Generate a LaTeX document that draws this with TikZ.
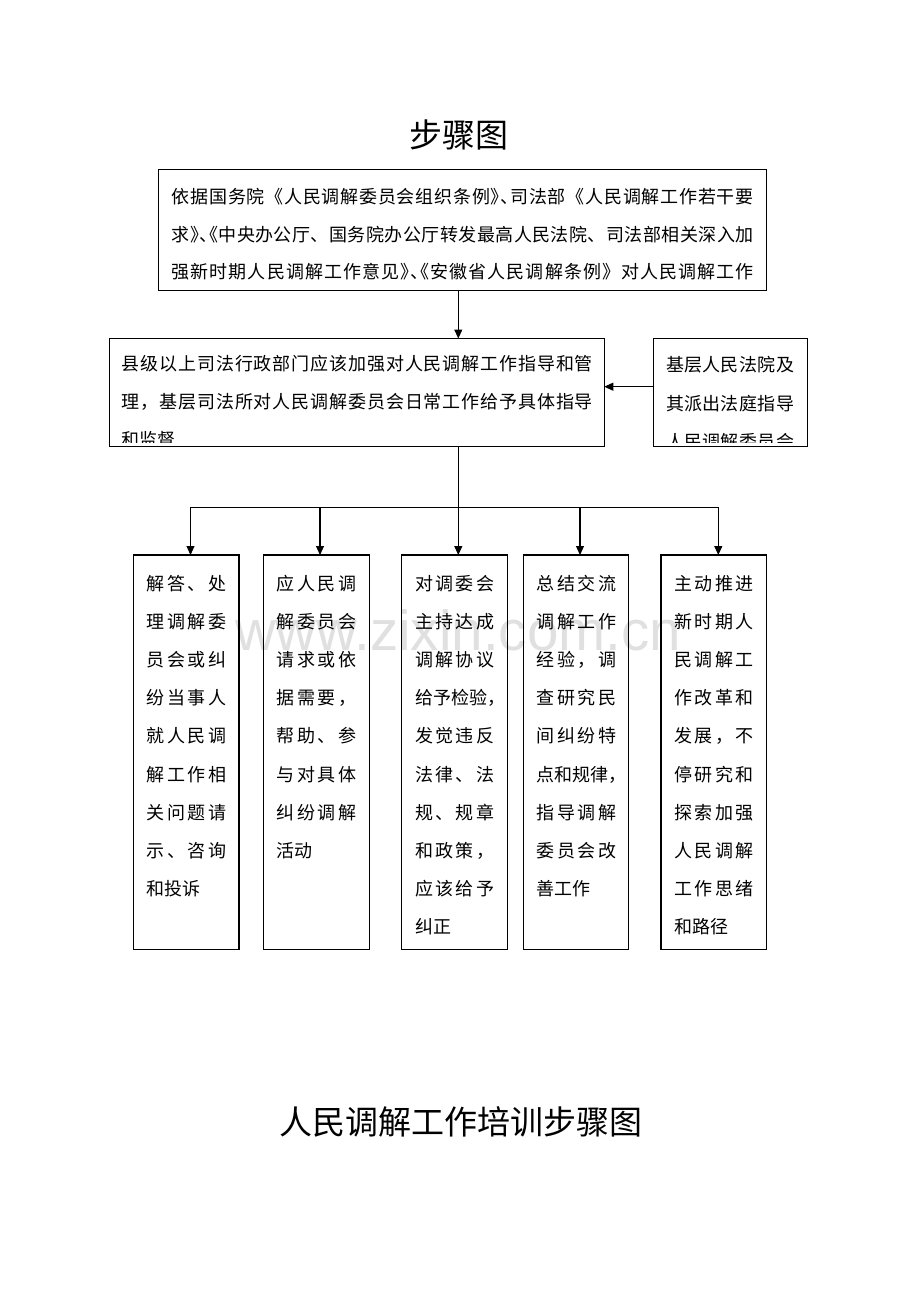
\documentclass[tikz,border=0pt]{standalone}
\usepackage{fontspec}
\setmainfont{Noto Sans CJK SC}
\newfontfamily\wmfont{Liberation Sans}
\usetikzlibrary{arrows.meta}
\ExplSyntaxOn
\NewDocumentCommand\spreadchars{m}{\tl_map_inline:nn{#1}{##1\hfil}\unskip}
\ExplSyntaxOff
\newcommand\jl[2]{\hbox to #1{\spreadchars{#2}}}
\newcommand\nl[1]{\hbox{#1}}
\newcommand\txtblock[2]{\vtop{\baselineskip=#1\lineskiplimit=-1000pt\lineskip=0pt #2}}
\newcommand\hR{\makebox[0.5em][l]{》}}
\newcommand\hD{\makebox[0.5em][l]{、}}
\newcommand\hL{\makebox[0.5em][r]{《}}
\newcommand\hC{\makebox[0.4em][l]{，}}
\tikzset{
  box/.style={draw, line width=1.1pt, inner sep=0pt, outer sep=0pt, anchor=north west},
  txt/.style={inner sep=0pt, outer sep=0pt, anchor=base west, font=\fontsize{18}{18}\selectfont},
  ttl/.style={inner sep=0pt, outer sep=0pt, anchor=base, font=\fontsize{33}{33}\selectfont},
  arr/.style={line width=1.1pt, -{Triangle[length=9pt,width=8pt]}},
  ln/.style={line width=1.1pt}
}
\begin{document}
\begin{tikzpicture}[x=1pt,y=-1pt]
\useasboundingbox (0,0) rectangle (920,1302);
% watermark
\node[inner sep=0pt, anchor=base west, text=black!12, font=\wmfont\fontsize{56.5}{56.5}\selectfont] (wm) at (235,650) {www.zixin.com.cn};
% titles
\node[ttl] (title) at (459,147.5) {步骤图};
\node[ttl] (title2) at (460.5,1134.8) {人民调解工作培训步骤图};
% boxes
\node[box, minimum width=608.4pt, minimum height=121.4pt] (top) at (158.3,169.3) {};
\node[box, minimum width=495pt, minimum height=108.4pt] (mid) at (109.3,338.5) {};
\node[box, minimum width=154.4pt, minimum height=108.4pt] (side) at (653.3,338.5) {};
\node[box, minimum width=105.7pt, minimum height=394.3pt] (b1) at (133.3,555) {};
\node[box, minimum width=106pt, minimum height=394.3pt] (b2) at (263.3,555) {};
\node[box, minimum width=105.6pt, minimum height=394.3pt] (b3) at (401.7,555) {};
\node[box, minimum width=105.4pt, minimum height=394.3pt] (b4) at (523.3,555) {};
\node[box, minimum width=105.7pt, minimum height=394.3pt] (b5) at (661,555) {};
% texts
\node[txt] (toptext) at (171.7,203.3) {\txtblock{37.8pt}{%
  \jl{582pt}{依据国务院《人民调解委员会组织条例\hR\hD 司法部《人民调解工作若干要}
  \jl{582pt}{求\hR\hD\hL 中央办公厅、国务院办公厅转发最高人民法院、司法部相关深入加}
  \jl{582pt}{强新时期人民调解工作意见\hR\hD\hL 安徽省人民调解条例》对人民调解工作}}};
\coordinate (cliplow) at (0,442.5);
\begin{scope}
\clip (mid.north west) rectangle (mid.east |- cliplow);
\node[txt] (midtext) at (121.7,370.1) {\txtblock{38.3pt}{%
  \jl{471.3pt}{县级以上司法行政部门应该加强对人民调解工作指导和管}
  \jl{471.3pt}{理，基层司法所对人民调解委员会日常工作给予具体指导}
  \nl{和监督}}};
\end{scope}
\begin{scope}
\clip (side.north west) rectangle (side.east |- cliplow);
\node[txt] (sidetext) at (666,371.8) {\txtblock{38.3pt}{%
  \jl{128pt}{基层人民法院及}
  \jl{128pt}{其派出法庭指导}
  \jl{128pt}{人民调解委员会}}};
\end{scope}
\node[txt] (t1text) at (146.7,590.1) {\txtblock{38.2pt}{%
  \jl{79.5pt}{解答、处}\jl{79.5pt}{理调解委}\jl{79.5pt}{员会或纠}
  \jl{79.5pt}{纷当事人}\jl{79.5pt}{就人民调}\jl{79.5pt}{解工作相}
  \jl{79.5pt}{关问题请}\jl{79.5pt}{示、咨询}\nl{和投诉}}};
\node[txt] (t2text) at (276.7,590.1) {\txtblock{38.2pt}{%
  \jl{79.5pt}{应人民调}\jl{79.5pt}{解委员会}\jl{79.5pt}{请求或依}
  \jl{79.5pt}{据需要，}\jl{79.5pt}{帮助、参}\jl{79.5pt}{与对具体}
  \jl{79.5pt}{纠纷调解}\nl{活动}}};
\node[txt] (t3text) at (415,590.1) {\txtblock{38.2pt}{%
  \jl{79.5pt}{对调委会}\jl{79.5pt}{主持达成}\jl{79.5pt}{调解协议}
  \jl{79.5pt}{给予检验\hC}\jl{79.5pt}{发觉违反}\jl{79.5pt}{法律、法}
  \jl{79.5pt}{规、规章}\jl{79.5pt}{和政策，}\jl{79.5pt}{应该给予}
  \nl{纠正}}};
\node[txt] (t4text) at (536.7,590.1) {\txtblock{38.2pt}{%
  \jl{79.5pt}{总结交流}\jl{79.5pt}{调解工作}\jl{79.5pt}{经验，调}
  \jl{79.5pt}{查研究民}\jl{79.5pt}{间纠纷特}\jl{79.5pt}{点和规律\hC}
  \jl{79.5pt}{指导调解}\jl{79.5pt}{委员会改}\nl{善工作}}};
\node[txt] (t5text) at (674.3,590.1) {\txtblock{38.2pt}{%
  \jl{79.5pt}{主动推进}\jl{79.5pt}{新时期人}\jl{79.5pt}{民调解工}
  \jl{79.5pt}{作改革和}\jl{79.5pt}{发展，不}\jl{79.5pt}{停研究和}
  \jl{79.5pt}{探索加强}\jl{79.5pt}{人民调解}\jl{79.5pt}{工作思绪}
  \nl{和路径}}};
% connectors
\coordinate (ax) at (458.3,0);
\coordinate (ay) at (0,386.7);
\draw[arr] (top.south -| ax) -- (mid.north -| ax);
\draw[arr] (side.west |- ay) -- (mid.east |- ay);
\coordinate (k1) at (190.5,507.3);
\coordinate (k2) at (320,507.3);
\coordinate (k3) at (458.3,507.3);
\coordinate (k4) at (580,507.3);
\coordinate (k5) at (718.3,507.3);
\draw[ln] (mid.south -| ax) -- (k3);
\draw[ln] (k1) -- (k5);
\foreach \i in {1,...,5} \draw[arr] (k\i) -- (k\i |- b\i.north);
\end{tikzpicture}
\end{document}
